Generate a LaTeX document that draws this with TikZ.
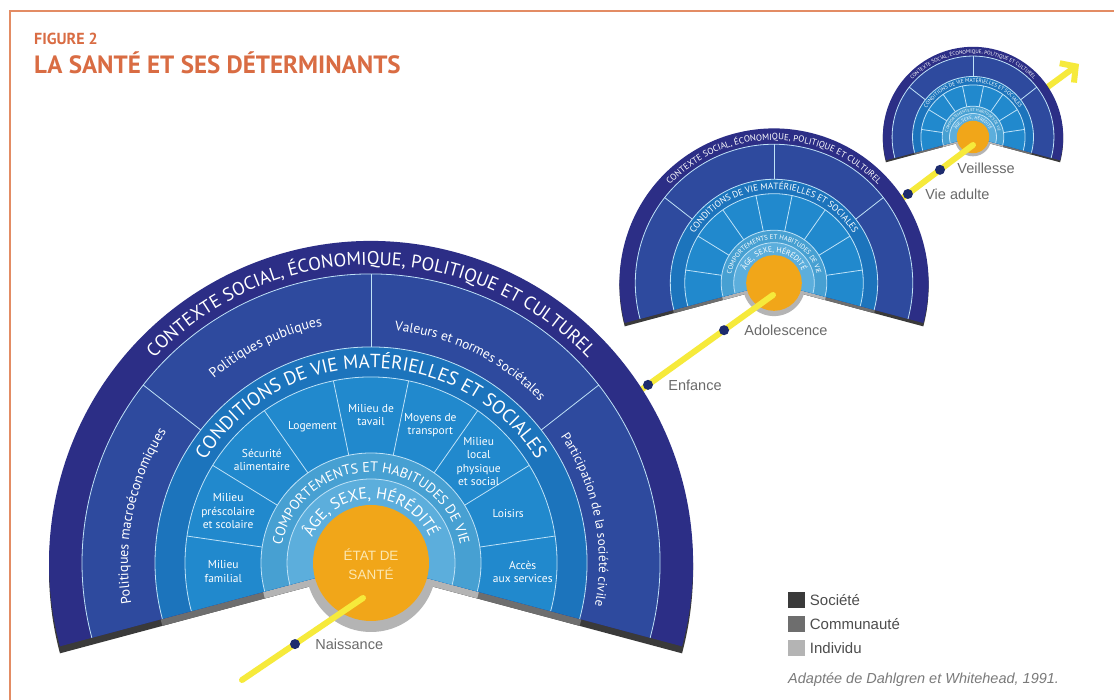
\documentclass[tikz,border=0pt]{standalone}
\usepackage{fontspec}
\setmainfont{Liberation Sans}
\newfontfamily\fanfont{PT Sans}
\usetikzlibrary{arrows.meta,positioning,calc,decorations.text}
\definecolor{framecol}{HTML}{E38C64}
\definecolor{titlecol}{HTML}{D96C43}
\definecolor{ringA}{HTML}{2C2E86}
\definecolor{ringB}{HTML}{2E4A9E}
\definecolor{ringC}{HTML}{1C74BC}
\definecolor{ringD}{HTML}{2189CD}
\definecolor{ringE}{HTML}{47A0D2}
\definecolor{ringF}{HTML}{5CAEDC}
\definecolor{sepcol}{HTML}{BFE2F7}
\definecolor{sante}{HTML}{F1A619}
\definecolor{santetext}{HTML}{FCE8B2}
\definecolor{societe}{HTML}{3A3A3A}
\definecolor{communaute}{HTML}{6E6E6E}
\definecolor{individu}{HTML}{B4B4B4}
\definecolor{pathyellow}{HTML}{F6EA3B}
\definecolor{dotblue}{HTML}{1D2B6E}
\definecolor{labelgray}{HTML}{6A6A6A}
\definecolor{legendgray}{HTML}{4D4D4D}
\definecolor{captiongray}{HTML}{7A7A7A}
\tikzset{
  heading/.style={anchor=base west,inner sep=0pt,text=titlecol},
  sepline/.style={draw=sepcol,line width=0.8pt},
  lifeline/.style={draw=pathyellow,line width=6pt,line cap=round},
  agedot/.style={circle,fill=dotblue,inner sep=0pt,minimum size=10pt},
  agelabel/.style={text=labelgray,font=\fontsize{14.5}{16}\selectfont,inner sep=3pt},
  celltext/.style={align=center,text=white,inner sep=1pt,
                   font=\fanfont\fontsize{11.5}{13.5}\selectfont},
  santelabel/.style={align=center,text=santetext,
                     font=\fontsize{13.5}{19}\selectfont},
  legendbox/.style={minimum width=17pt,minimum height=16pt,inner sep=0pt},
  legendtext/.style={text=legendgray,inner sep=1pt,font=\fontsize{15}{17}\selectfont}
}
% one ring of a fan, as a pie slice from the centre (optionally lowered)
\newcommand{\fanring}[3][0]{%
  \fill[#3] (0,#1) -- ++(-15:#2) arc[start angle=-15,end angle=195,radius=#2] -- cycle;}
% white text bent along an arc: radius, from, to, font, text
\newcommand{\arclabel}[5]{%
  \path[decorate,decoration={text along path,text align=center,
        text color=white,text={|#4|#5}}]
    (#2:#1) arc[start angle=#2,end angle=#3,radius=#1];}
% a whole fan: centre, scale
\newcommand{\lifefan}[2]{%
  \begin{scope}[shift={(#1)},scale=#2]
    % side of the fan seen under the bottom edges
    \fanring[-7]{322}{societe}
    \fanring[-7]{216}{communaute}
    \fanring[-7]{110}{individu}
    \fill[individu] (0,-4) circle[radius=65];
    % rings, from the outside in
    \fanring{322}{ringA}
    \fanring{289}{ringB}
    \fanring{216}{ringC}
    \fanring{186}{ringD}
    \fanring{110}{ringE}
    \fanring{84}{ringF}
    \foreach \rad in {84,110,186,216,289}
      \draw[sepline] (-15:\rad) arc[start angle=-15,end angle=195,radius=\rad];
    \foreach \ang in {38,90,142}
      \draw[sepline] (\ang:216) -- (\ang:289);
    \foreach \k in {1,...,8}
      \draw[sepline] ({-15+\k*210/9}:110) -- ({-15+\k*210/9}:186);
    \fill[sante] (0,0) circle[radius=58];
    \pgfmathsetmacro{\fsbig}{18.5*#2}
    \pgfmathsetmacro{\fscond}{19*#2}
    \pgfmathsetmacro{\fscomp}{14*#2}
    \pgfmathsetmacro{\fsage}{16*#2}
    \arclabel{298}{185}{-5}{\fanfont\fontsize{\fsbig}{\fsbig}\selectfont}{CONTEXTE SOCIAL, ÉCONOMIQUE, POLITIQUE ET CULTUREL}
    \arclabel{195}{185}{-5}{\fanfont\fontsize{\fscond}{\fscond}\selectfont}{CONDITIONS DE VIE MATÉRIELLES ET SOCIALES}
    \arclabel{91}{185}{-5}{\fanfont\fontsize{\fscomp}{\fscomp}\selectfont}{COMPORTEMENTS ET HABITUDES DE VIE}
    \arclabel{64}{185}{-5}{\fanfont\fontsize{\fsage}{\fsage}\selectfont}{ÂGE, SEXE, HÉRÉDITÉ}
  \end{scope}}

\begin{document}
\begin{tikzpicture}[x=1pt,y=1pt,>=Latex]
  \useasboundingbox (0,0) rectangle (1114,700);
  \fill[white] (0,0) rectangle (1114,700);

  % frame and heading
  \draw[framecol,line width=2pt] (10,0) -- (10,689) -- (1114,689);
  \node[heading,font=\fanfont\bfseries\fontsize{16}{16}\selectfont] (figno) at (34,655) {FIGURE 2};
  \node[heading,font=\fanfont\bfseries\fontsize{25}{25}\selectfont] (title) at (34,626) {LA SANTÉ ET SES DÉTERMINANTS};

  % centres of the fans and ends of the life line
  \coordinate (bigc) at (371,137);
  \coordinate (midc) at (774,417);
  \coordinate (smallc) at (973,563);
  \coordinate (birth) at (242,20);
  \coordinate (bigend) at (363,102);
  \coordinate (enfstart) at (620,295);
  \coordinate (midend) at (773,405);
  \coordinate (adustart) at (880,485);
  \coordinate (smallend) at (973,555);
  \coordinate (arrowstart) at (1030,600);
  \coordinate (arrowtip) at (1079,636);

  % old age, then on
  \draw[lifeline,-{Straight Barb[length=11pt,width=24pt]}] (arrowstart) -- (arrowtip);
  \lifefan{smallc}{0.28}
  \draw[lifeline] (adustart) -- (smallend);
  \node[agedot] (dotadulte) at ($(adustart)!0.30!(smallend)$) {};
  \node[agelabel,right=9pt of dotadulte] (adulte) {Vie adulte};
  \node[agedot] (dotvieil) at ($(adustart)!0.645!(smallend)$) {};
  \node[agelabel,right=9pt of dotvieil,yshift=2pt] (vieil) {Veillesse};

  % childhood and teens
  \lifefan{midc}{0.48}
  \draw[lifeline] (enfstart) -- (midend);
  \node[agedot] (dotenf) at ($(enfstart)!0.183!(midend)$) {};
  \node[agelabel,right=12pt of dotenf] (enfance) {Enfance};
  \node[agedot] (dotado) at ($(enfstart)!0.68!(midend)$) {};
  \node[agelabel,right=12pt of dotado] (ado) {Adolescence};

  % birth: the full fan with every label
  \lifefan{bigc}{1}
  \begin{scope}[shift={(bigc)}]
    \arclabel{243}{200}{137}{\fanfont\fontsize{14}{14}\selectfont}{Politiques macroéconomiques}
    \arclabel{242}{147}{85}{\fanfont\fontsize{14}{14}\selectfont}{Politiques publiques}
    \arclabel{234}{95}{33}{\fanfont\fontsize{13.5}{13.5}\selectfont}{Valeurs et normes sociétales}
    \arclabel{228}{43}{-20}{\fanfont\fontsize{13}{13}\selectfont}{Participation de la société civile}
    \node[celltext] (familial) at (183.3:148) {Milieu\\familial};
    \node[celltext] (scolaire) at (160:152) {Milieu\\préscolaire\\et scolaire};
    \node[celltext] (alim) at (136.7:150) {Sécurité\\alimentaire};
    \node[celltext] (logement) at (113.3:148) {Logement};
    \node[celltext] (travail) at (90:148) {Milieu de\\tavail};
    \node[celltext] (transport) at (66.7:150) {Moyens de\\transport};
    \node[celltext] (local) at (43.3:148) {Milieu\\local\\physique\\et social};
    \node[celltext] (loisirs) at (20:146) {Loisirs};
    \node[celltext] (services) at (-3.3:152) {Accès\\aux services};
    \node[santelabel] (etat) at (0,-1) {ÉTAT DE\\SANTÉ};
  \end{scope}
  \draw[lifeline] (birth) -- (bigend);
  \node[agedot] (dotnaiss) at ($(birth)!0.438!(bigend)$) {};
  \node[agelabel,right=12pt of dotnaiss] (naiss) {Naissance};

  % legend and source
  \node[legendbox,fill=societe] (legsoc) at (796,100) {};
  \node[legendtext,right=4pt of legsoc] (txtsoc) {Société};
  \node[legendbox,fill=communaute] (legcom) at (796,76) {};
  \node[legendtext,right=4pt of legcom] (txtcom) {Communauté};
  \node[legendbox,fill=individu] (legind) at (796,52) {};
  \node[legendtext,right=4pt of legind] (txtind) {Individu};
  \node[anchor=west,text=captiongray,inner sep=0pt,
        font=\itshape\fontsize{14.5}{16}\selectfont] (source) at (788,20)
       {Adaptée de Dahlgren et Whitehead, 1991.};
\end{tikzpicture}
\end{document}
